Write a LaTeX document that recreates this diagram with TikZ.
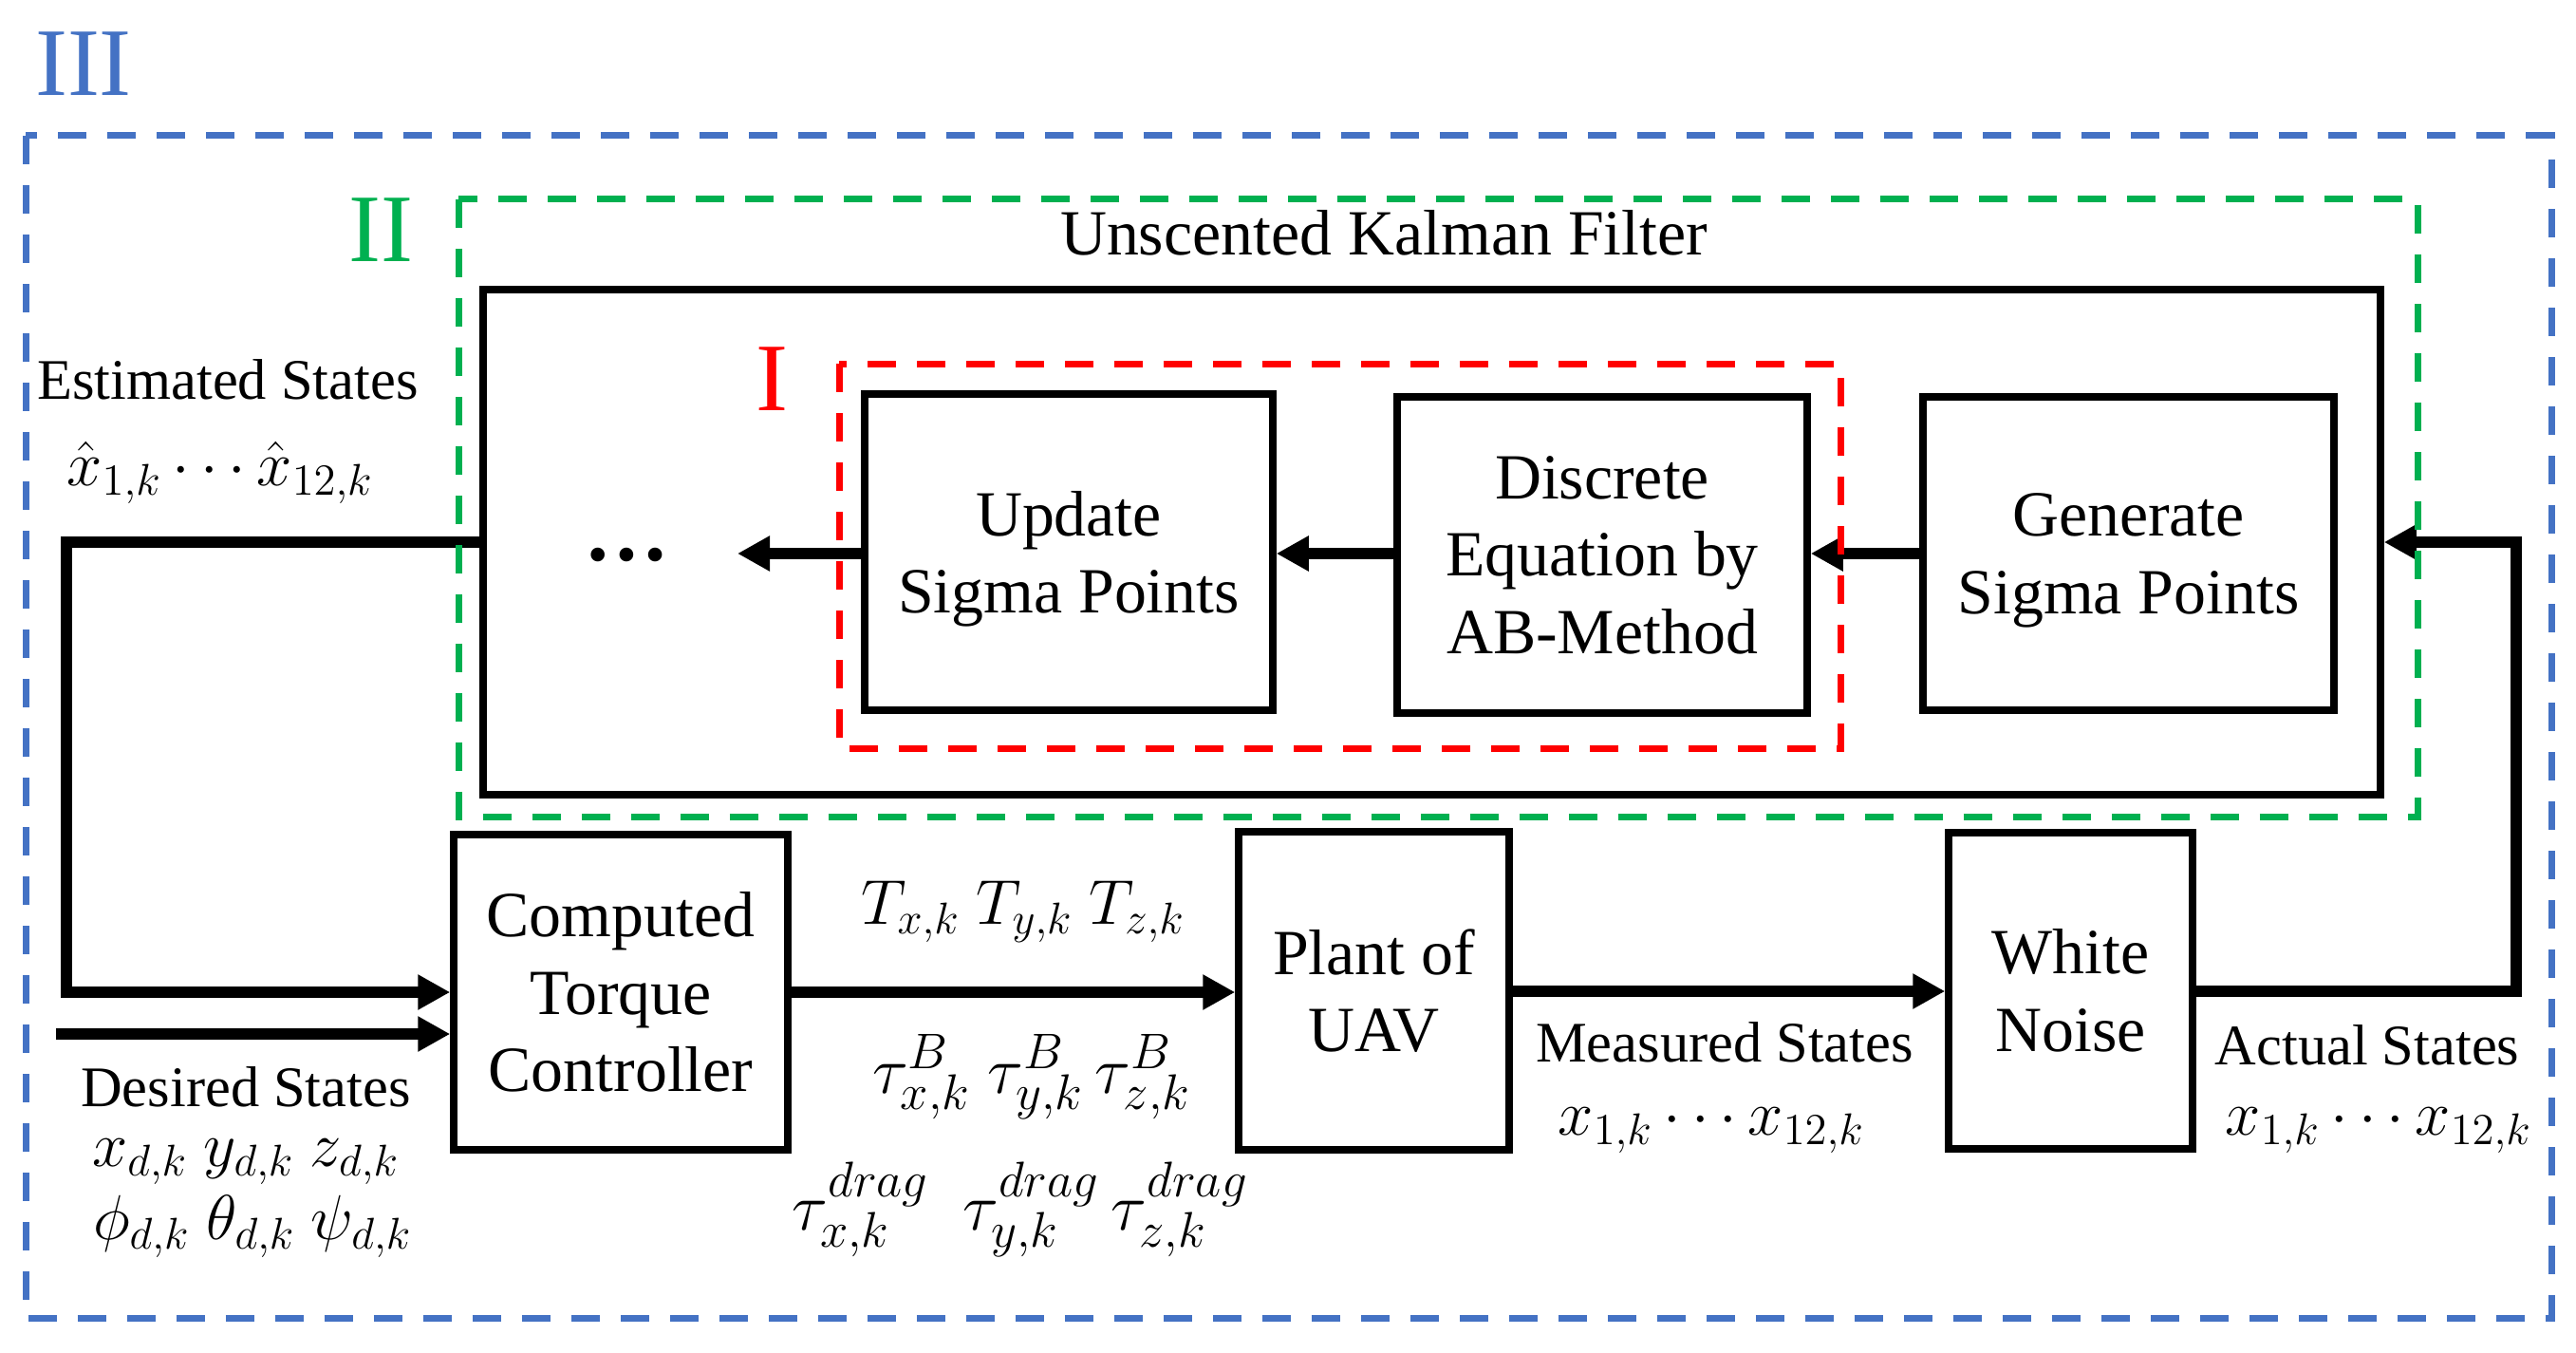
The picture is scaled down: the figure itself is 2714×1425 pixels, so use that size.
\RequirePackage{fix-cm}
\documentclass[tikz,border=0pt]{standalone}
\usepackage{fontspec}
\setmainfont{Liberation Serif}
\usetikzlibrary{arrows.meta}
\definecolor{cblue}{HTML}{4472C4}
\definecolor{cgreen}{HTML}{00B050}
\definecolor{cred}{HTML}{FF0000}
\DeclareMathSizes{20}{20}{15}{11}
\newcommand{\bxfont}{\fontsize{19.3}{23.2}\selectfont}
\newcommand{\lbfont}{\fontsize{17.2}{20}\selectfont}
\newcommand{\mafont}{\fontsize{19}{22}\selectfont}
\newcommand{\mbfont}{\fontsize{20}{23}\selectfont}
\newcommand{\rmnfont}{\fontsize{29}{30}\selectfont}
\begin{document}
\begin{tikzpicture}[x=0.1mm,y=-0.1mm,
  blk/.style={draw=black,line width=0.75mm,inner sep=0pt,align=center,font=\bxfont},
  flow/.style={line width=1.15mm,-{Triangle[length=3.4mm,width=3.5mm]}},
  lbl/.style={font=\lbfont,anchor=base,inner sep=0pt},
  mlbl/.style={font=\mafont,anchor=base,inner sep=0pt},
  tlbl/.style={font=\mbfont,anchor=base,inner sep=0pt},
  dsh/.style={line width=0.7mm,dash pattern=on 3mm off 2.2mm},
  rmn/.style={font=\rmnfont,inner sep=0pt},
]
\useasboundingbox (0,0) rectangle (2714,1425);

% boxes
\node[blk,minimum width=199.9mm,minimum height=53.2mm] (ukf) at (1508.5,571) {};
\node[blk,minimum width=43mm,minimum height=33.3mm] (upd) at (1126,581.5) {Update\\\smash{Sigma Points}};
\node[blk,minimum width=43.2mm,minimum height=33.3mm] (disc) at (1688,584.5) {Discrete\\Equation by\\AB-Method};
\node[blk,minimum width=43.3mm,minimum height=33mm] (gen) at (2242.5,583) {Generate\\\smash{Sigma Points}};
\node[blk,minimum width=35.2mm,minimum height=33.2mm] (ctrl) at (654,1045) {Computed\\Torque\\Controller};
\node[blk,minimum width=28.5mm,minimum height=33.5mm] (plant) at (1447.5,1043.5) {Plant of\\UAV};
\node[blk,minimum width=25.7mm,minimum height=33.3mm] (white) at (2181.5,1043.5) {White\\Noise};

% dots
\node[font=\fontsize{25.5}{26}\selectfont\bfseries,anchor=base,inner sep=0pt] (dots) at (660,590) {…};
\coordinate (dotsR) at (777,583);

% coordinates for feedback paths
\coordinate (fbL) at (70,571);
\coordinate (dsIn) at (59,1089);
\coordinate (fbR) at (2651,1044);

% arrows
\draw[flow] (gen.west) -- (gen.west -| disc.east);
\draw[flow] (disc.west |- 0,583) -- (upd.east |- 0,583);
\draw[flow] (upd.west |- dotsR) -- (dotsR);
\draw[flow] (ukf.west) -- (fbL) |- (ctrl.west);
\draw[flow] (dsIn) -- (dsIn -| ctrl.west);
\draw[flow] (ctrl.east) -- (ctrl.east -| plant.west);
\draw[flow] (plant.east |- fbR) -- (white.west |- fbR);
\draw[flow] (white.east |- fbR) -- (fbR) |- (ukf.east);

% dashed regions
\draw[dsh,cblue] (27,143) rectangle (2688,1388);
\draw[dsh,cgreen] (483,210) rectangle (2547,860);
\draw[dsh,cred] (884,383) rectangle (1939,788);

% roman labels
\node[rmn,text=cblue] (r3) at (88,67.5) {III};
\node[rmn,text=cgreen] (r2) at (401,242) {II};
\node[rmn,text=cred] (r1) at (813,399) {I};

% title
\node[font=\bxfont,inner sep=0pt] (title) at (1458,245) {Unscented Kalman Filter};

% labels
\node[lbl] (est) at (240,420) {Estimated States};
\node[mlbl] (estx) at (232,511) {$\hat{x}_{1,k}\cdots\hat{x}_{12,k}$};
\node[lbl] (des) at (259,1165) {Desired States};
\node[mlbl] (desx) at (259,1228) {$x_{d,k}\ y_{d,k}\ z_{d,k}$};
\node[mlbl] (desa) at (266,1305) {$\phi_{d,k}\ \theta_{d,k}\ \psi_{d,k}$};
\node[mlbl] (tq) at (1078,973) {$T_{x,k}\ T_{y,k}\ T_{z,k}$};
\node[tlbl] (tb) at (1087,1151) {$\tau^{B}_{x,k}\ \tau^{B}_{y,k}\,\tau^{B}_{z,k}$};
\node[tlbl] (td) at (1075,1295) {$\tau^{drag}_{x,k}\ \ \tau^{drag}_{y,k}\,\tau^{drag}_{z,k}$};
\node[lbl] (meas) at (1817,1118) {Measured States};
\node[mlbl] (measx) at (1803,1195) {$x_{1,k}\cdots x_{12,k}$};
\node[lbl] (act) at (2494,1121) {Actual States};
\node[mlbl] (actx) at (2506,1195) {$x_{1,k}\cdots x_{12,k}$};
\end{tikzpicture}
\end{document}
